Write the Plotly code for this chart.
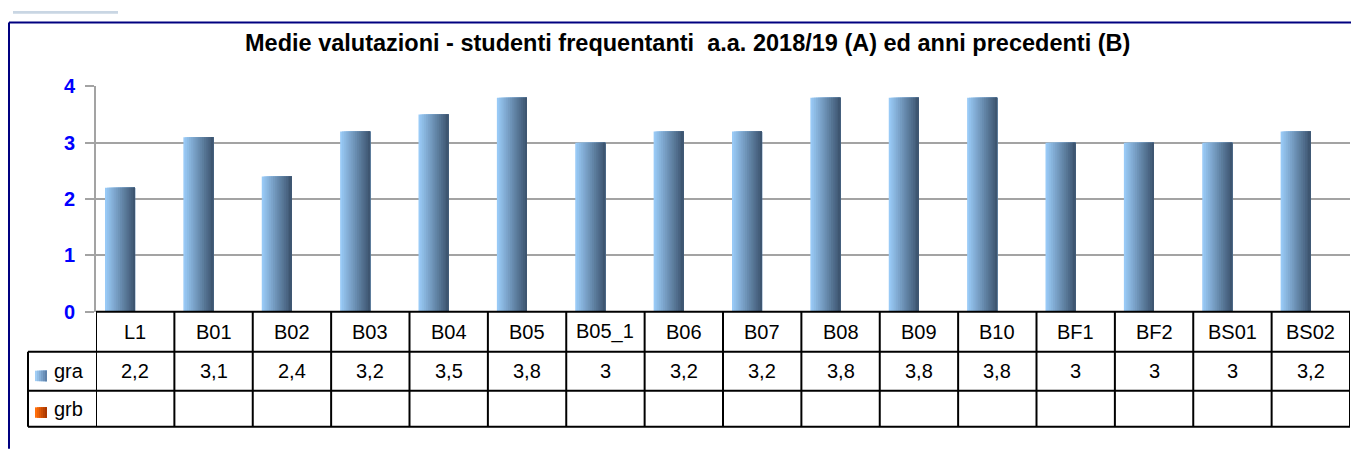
import plotly.graph_objects as go

# ---- data ----
categories = ["L1", "B01", "B02", "B03", "B04", "B05", "B05_1", "B06", "B07",
              "B08", "B09", "B10", "BF1", "BF2", "BS01", "BS02"]
gra_values = [2.2, 3.1, 2.4, 3.2, 3.5, 3.8, 3.0, 3.2, 3.2, 3.8, 3.8, 3.8, 3.0, 3.0, 3.0, 3.2]
grb_values = [None] * len(categories)
series_names = ["gra", "grb"]
y_ticks = [0, 1, 2, 3, 4]
title_text = "Medie valutazioni - studenti frequentanti  a.a. 2018/19 (A) ed anni precedenti (B)"

W, H = 1351, 454
FONT = "Liberation Sans, Arial, sans-serif"


def px(x):
    return x / W


def py(y):
    return 1 - y / H


def fmt(v):
    if v is None:
        return ""
    s = ("%.1f" % v).rstrip("0").rstrip(".")
    return s.replace(".", ",")


def lerp(c1, c2, t):
    return "rgb(%d,%d,%d)" % tuple(round(a + (b - a) * t) for a, b in zip(c1, c2))


# plot area geometry (pixels)
X0, X1 = 96, 1350
Y_TOP, Y_ZERO = 79.3, 316

fig = go.Figure()

# gradient bars: overlapping slices of the same series (no seams)
N = 16
bar_w = 0.383
bar_off = -0.385
left_c = (153, 202, 246)
right_c = (62, 86, 113)
for i in range(N):
    fig.add_trace(go.Bar(
        x=categories, y=gra_values, name=series_names[0],
        width=bar_w - i * bar_w / N, offset=bar_off + i * bar_w / N,
        marker=dict(color=lerp(left_c, right_c, i / (N - 1)), line=dict(width=0)),
        showlegend=False, hoverinfo="x+y",
    ))
fig.add_trace(go.Bar(x=categories, y=grb_values, name=series_names[1],
                     width=bar_w, offset=0, marker_color="#E05A10", showlegend=False))

shapes = []
line_black = dict(color="black", width=2)

# table horizontal lines
shapes.append(dict(type="line", xref="paper", yref="paper", x0=px(X0), x1=px(X1),
                   y0=py(Y_ZERO), y1=py(Y_ZERO), line=line_black))
for yy in [358, 399, 437]:
    shapes.append(dict(type="line", xref="paper", yref="paper", x0=px(28), x1=px(X1),
                       y0=py(yy), y1=py(yy), line=line_black))
# vertical lines
shapes.append(dict(type="line", xref="paper", yref="paper", x0=px(28), x1=px(28),
                   y0=py(358), y1=py(437), line=line_black))
for k in range(len(categories) + 1):
    shapes.append(dict(type="line", xref="x", yref="paper", x0=k - 0.5, x1=k - 0.5,
                       y0=py(Y_ZERO), y1=py(437), line=line_black))

# legend keys in table (gradient squares)
key_cols = [((160, 205, 245), (95, 130, 170)), ((255, 110, 10), (170, 55, 0))]
for r, (c1, c2) in enumerate(key_cols):
    ytop = 378 if r == 0 else 416.5
    n = 6
    for j in range(n):
        shapes.append(dict(type="rect", xref="paper", yref="paper",
                           x0=px(35 + j * 12 / n), x1=px(47),
                           y0=py(ytop), y1=py(ytop + 11), line=dict(width=0),
                           fillcolor=lerp(c1, c2, j / (n - 1))))

# chart border (left & top) and small tab at the top
shapes.append(dict(type="line", xref="paper", yref="paper", x0=px(9), x1=px(9),
                   y0=py(12), y1=py(460), line=dict(color="#000080", width=2)))
shapes.append(dict(type="line", xref="paper", yref="paper", x0=px(9), x1=px(1360),
                   y0=py(12), y1=py(12), line=dict(color="#000080", width=2)))
shapes.append(dict(type="rect", xref="paper", yref="paper", x0=px(13), x1=px(118),
                   y0=py(0), y1=py(3), line=dict(width=0), fillcolor="#C9D6E3"))

annotations = []
annotations.append(dict(text="<b>" + title_text + "</b>", xref="paper", yref="paper",
                        x=px(687), y=py(33.5), xanchor="center", yanchor="middle",
                        showarrow=False, font=dict(family=FONT, size=23.5, color="black")))
for k, c in enumerate(categories):
    annotations.append(dict(text=c, xref="x", yref="paper", x=k, y=py(337),
                            xanchor="center", yanchor="middle", showarrow=False,
                            font=dict(family=FONT, size=20, color="black")))
    annotations.append(dict(text=fmt(gra_values[k]), xref="x", yref="paper", x=k, y=py(378.5),
                            xanchor="center", yanchor="middle", showarrow=False,
                            font=dict(family=FONT, size=20, color="black")))
for r, name in enumerate(series_names):
    annotations.append(dict(text=name, xref="paper", yref="paper", x=px(52),
                            y=py(378.5 if r == 0 else 418), xanchor="left", yanchor="middle",
                            showarrow=False, font=dict(family=FONT, size=20, color="black")))

fig.update_layout(
    width=W, height=H,
    margin=dict(l=0, r=0, t=0, b=0),
    paper_bgcolor="white", plot_bgcolor="white",
    barmode="overlay",
    showlegend=False,
    shapes=shapes,
    annotations=annotations,
    xaxis=dict(domain=[px(X0), px(X1)], type="category", categoryorder="array",
               categoryarray=categories, range=[-0.5, len(categories) - 0.5],
               showticklabels=False, showgrid=False, zeroline=False, showline=False,
               ticks=""),
    yaxis=dict(domain=[py(Y_ZERO), py(Y_TOP)], range=[0, 4], tickvals=y_ticks,
               ticktext=["<b>%d</b>" % t for t in y_ticks],
               tickfont=dict(family=FONT, size=20, color="#0000FF"),
               showgrid=True, gridcolor="#A3A3A3", gridwidth=2,
               zeroline=False, showline=True, linecolor="#A3A3A3", linewidth=2,
               ticks="outside", ticklen=9, tickwidth=2, tickcolor="#A3A3A3",
               ticklabelstandoff=6),
)

fig.write_html("out.html", config={"displayModeBar": False},
               post_script="document.body.style.margin='0px';")
